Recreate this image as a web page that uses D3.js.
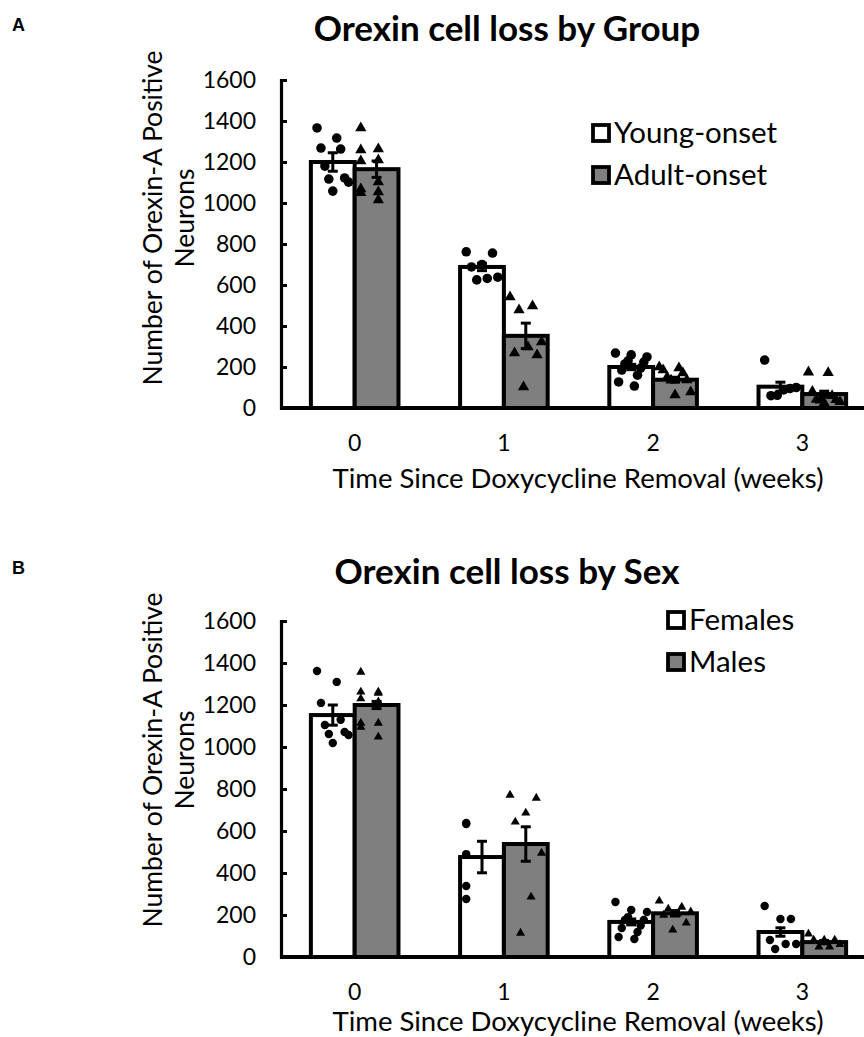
<!DOCTYPE html>
<html>
<head>
<meta charset="utf-8">
<script src="https://cdn.jsdelivr.net/npm/d3@7"></script>
<style>
  html, body { margin: 0; padding: 0; background: #fff; }
  svg { display: block; }
  text { font-family: Lato, "Open Sans", sans-serif; fill: #000; }
</style>
</head>
<body>
<svg id="chart" width="864" height="1037"></svg>
<script>
// ---------- data ----------
const categories = ["0", "1", "2", "3"];
const yTickValues = [0, 200, 400, 600, 800, 1000, 1200, 1400, 1600];
const xAxisTitle = "Time Since Doxycycline Removal (weeks)";
const yAxisTitleLines = ["Number of Orexin-A Positive", "Neurons"];

// Panel A: by group
const titleA = "Orexin cell loss by Group";
const seriesNamesA = ["Young-onset", "Adult-onset"];
const youngMean = [1200, 688, 200, 104];
const youngSem = [45, 18, 13, 22];
const adultMean = [1165, 352, 138, 68];
const adultSem = [40, 62, 12, 14];
const youngPoints = [
  [1366, 1317, 1268, 1263, 1180, 1122, 1117, 1102, 1058],
  [762, 756, 700, 688, 638, 632, 625],
  [268, 259, 249, 230, 224, 215, 195, 185, 160, 127, 107],
  [234, 100, 95, 88, 62, 60]
];
const adultPoints = [
  [1366, 1263, 1258, 1210, 1205, 1102, 1068, 1054, 1050, 1015],
  [541, 498, 478, 322, 298, 268, 259, 102],
  [200, 195, 185, 171, 150, 137, 135, 78, 63],
  [175, 172, 80, 60, 42, 40, 38, 30, 25]
];

// Panel B: by sex
const titleB = "Orexin cell loss by Sex";
const seriesNamesB = ["Females", "Males"];
const femaleMean = [1152, 476, 167, 119];
const femaleSem = [48, 75, 14, 20];
const maleMean = [1200, 538, 208, 71];
const maleSem = [17, 82, 13, 8];
const femalePoints = [
  [1362, 1310, 1210, 1130, 1105, 1071, 1062, 1057, 1019],
  [638, 633, 490, 338, 276],
  [262, 224, 214, 190, 176, 176, 150, 138, 119, 95, 86],
  [243, 181, 181, 81, 62, 62, 38]
];
const malePoints = [
  [1357, 1262, 1262, 1257, 1230, 1215, 1114, 1114, 1095, 1048],
  [771, 757, 686, 643, 495, 286, 114],
  [267, 238, 229, 215, 205, 200, 162, 129],
  [110, 81, 81, 81, 60, 48, 48]
];

// ---------- drawing ----------
const svg = d3.select("#chart");
const fills = ["#ffffff", "#7f7f7f"];

function drawPanel(cfg) {
  const g = svg.append("g");
  const y = d3.scaleLinear().domain([0, 1600]).range([cfg.yBottom, cfg.yTop]);
  const x = d3.scaleBand().domain(categories).range([280, 877])
    .paddingInner(0.413).paddingOuter(0.207);
  const xs = d3.scaleBand().domain([0, 1]).range([0, x.bandwidth()]);

  // panel letter
  g.append("text").attr("x", 12).attr("y", cfg.letterY)
    .style("font-family", "'Liberation Sans', Arial, sans-serif")
    .style("font-weight", "bold").style("font-size", "18px").text(cfg.letter);

  // title
  g.append("text").attr("x", 507).attr("y", cfg.titleY).attr("text-anchor", "middle")
    .style("font-weight", "bold").style("font-size", "35px").text(cfg.title);

  // y axis
  const yAxis = d3.axisLeft(y).tickValues(yTickValues).tickSize(-6).tickPadding(25)
    .tickFormat(d3.format("d"));
  const ya = g.append("g").attr("transform", "translate(281,0)").call(yAxis);
  ya.select(".domain").attr("stroke", "#000").attr("stroke-width", 3.2);
  ya.selectAll(".tick line").attr("stroke", "#000").attr("stroke-width", 3);
  ya.selectAll(".tick text").style("font-size", "23px").style("font-family", "Lato");

  // y title
  const yt = g.append("text")
    .attr("transform", `translate(0,${cfg.yTitleCenter}) rotate(-90)`)
    .attr("text-anchor", "middle").style("font-size", "26.5px");
  yAxisTitleLines.forEach((line, i) => {
    yt.append("tspan").attr("x", 0).attr("y", 162 + i * 32).text(line);
  });

  // bars
  const series = cfg.means.map((m, s) => ({ s, means: m, sems: cfg.sems[s], pts: cfg.points[s] }));
  series.forEach(ser => {
    const cat = categories.map((c, i) => ({ c, i, v: ser.means[i], e: ser.sems[i], pts: ser.pts[i] }));
    g.selectAll(null).data(cat).enter().append("rect")
      .attr("x", d => x(d.c) + xs(ser.s))
      .attr("y", d => y(d.v))
      .attr("width", xs.bandwidth())
      .attr("height", d => y(0) - y(d.v))
      .attr("fill", fills[ser.s]).attr("stroke", "#000").attr("stroke-width", 4);
  });

  // points
  series.forEach(ser => {
    const sym = d3.symbol().type(ser.s === 0 ? d3.symbolCircle : d3.symbolTriangle)
      .size(ser.s === 0 ? cfg.circleSize : cfg.triSize);
    categories.forEach((c, i) => {
      const pts = ser.pts[i];
      const n = pts.length;
      const bw = xs.bandwidth();
      const cx = x(c) + xs(ser.s) + bw / 2;
      g.selectAll(null).data(pts).enter().append("path")
        .attr("d", sym)
        .attr("fill", "#000")
        .attr("transform", (d, k) => {
          const frac = n > 1 ? ((k * 5) % n) / (n - 1) - 0.5 : 0;
          return `translate(${cx + frac * bw * 0.72},${y(d)})`;
        });
    });
  });

  // error bars
  series.forEach(ser => {
    categories.forEach((c, i) => {
      const cx = x(c) + xs(ser.s) + xs.bandwidth() / 2;
      const m = ser.means[i], e = ser.sems[i];
      const eg = g.append("g").attr("stroke", "#000").attr("stroke-width", 3);
      eg.append("line").attr("x1", cx).attr("x2", cx).attr("y1", y(m - e)).attr("y2", y(m + e));
      eg.append("line").attr("x1", cx - 5).attr("x2", cx + 5).attr("y1", y(m - e)).attr("y2", y(m - e));
      eg.append("line").attr("x1", cx - 5).attr("x2", cx + 5).attr("y1", y(m + e)).attr("y2", y(m + e));
    });
  });

  // x axis
  const xAxis = d3.axisBottom(x).tickSize(0).tickPadding(cfg.xTickPad).tickSizeOuter(0);
  const xa = g.append("g").attr("transform", `translate(0,${y(0)})`).call(xAxis);
  xa.select(".domain").attr("stroke", "#000").attr("stroke-width", 3.8)
    .attr("d", `M280,0H864`);
  xa.selectAll(".tick text").style("font-size", "23px").style("font-family", "Lato");

  g.append("text").attr("x", 578).attr("y", cfg.xTitleY).attr("text-anchor", "middle")
    .style("font-size", "27.5px").text(xAxisTitle);

  // legend
  cfg.names.forEach((name, s) => {
    const ly = cfg.legendY + s * 42;
    g.append("rect").attr("x", cfg.legendX).attr("y", ly - 8).attr("width", 16).attr("height", 16)
      .attr("fill", fills[s]).attr("stroke", "#000").attr("stroke-width", 3.8);
    g.append("text").attr("x", cfg.legendX + 21).attr("y", ly + 10)
      .style("font-size", "29.5px").text(name);
  });
}

drawPanel({
  letter: "A", letterY: 31, title: titleA, titleY: 41,
  yTop: 80, yBottom: 408, yTitleCenter: 218,
  means: [youngMean, adultMean], sems: [youngSem, adultSem], points: [youngPoints, adultPoints],
  names: seriesNamesA, legendX: 593, legendY: 133,
  xTickPad: 27, xTitleY: 488, circleSize: 72, triSize: 55
});

drawPanel({
  letter: "B", letterY: 574, title: titleB, titleY: 584,
  yTop: 621, yBottom: 957, yTitleCenter: 760,
  means: [femaleMean, maleMean], sems: [femaleSem, maleSem], points: [femalePoints, malePoints],
  names: seriesNamesB, legendX: 668, legendY: 620,
  xTickPad: 27, xTitleY: 1031, circleSize: 56, triSize: 36
});
</script>
</body>
</html>
